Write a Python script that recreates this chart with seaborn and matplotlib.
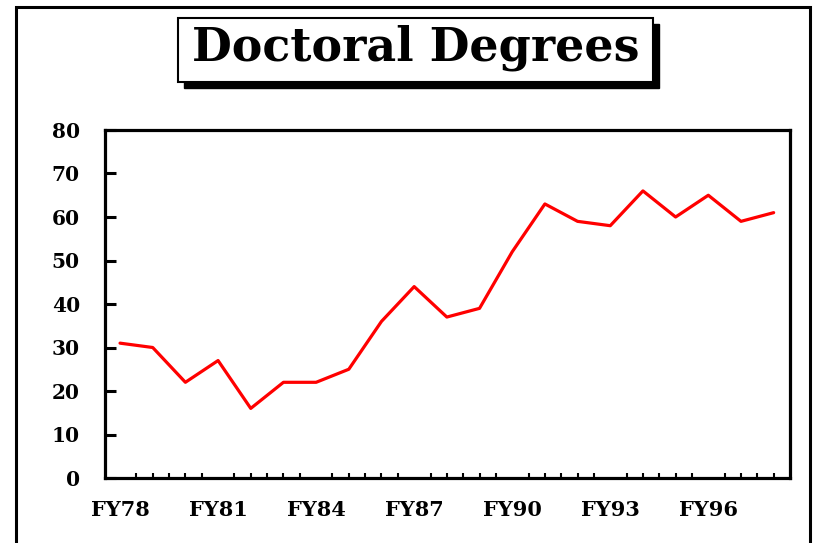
import numpy as np
import matplotlib.pyplot as plt
import seaborn as sns
import pandas as pd
from matplotlib.patches import Rectangle

sns.set_style("white")
plt.rcParams['font.family'] = ['DejaVu Serif', 'Liberation Serif']
plt.rcParams['text.color'] = 'black'
plt.rcParams['xtick.color'] = 'black'
plt.rcParams['ytick.color'] = 'black'

years = ["FY78", "FY79", "FY80", "FY81", "FY82", "FY83", "FY84", "FY85", "FY86", "FY87",
         "FY88", "FY89", "FY90", "FY91", "FY92", "FY93", "FY94", "FY95", "FY96", "FY97", "FY98"]
degrees = [31, 30, 22, 27, 16, 22, 22, 25, 36, 44, 37, 39, 52, 63, 59, 58, 66, 60, 65, 59, 61]
tick_labels = ["FY78", "FY81", "FY84", "FY87", "FY90", "FY93", "FY96"]

df = pd.DataFrame({"pos": np.arange(len(years)), "year": years, "degrees": degrees})

fig = plt.figure(figsize=(8.16, 5.43), dpi=100)
ax = fig.add_axes([105 / 816, 1 - 478 / 543, 685 / 816, 348 / 543])

sns.lineplot(data=df, x="pos", y="degrees", color="red", linewidth=2.3, ax=ax)

ax.set_xlim(-0.46, 20.5)
ax.set_ylim(0, 80)
ax.set_yticks(range(0, 81, 10))
ax.set_xticks([years.index(t) for t in tick_labels])
ax.set_xticklabels(tick_labels)
ax.set_xticks(np.arange(0, 20.01, 0.5), minor=True)
ax.set_xlabel("")
ax.set_ylabel("")

for s in ax.spines.values():
    s.set_linewidth(2.3)
    s.set_color("black")

ax.tick_params(axis="y", left=True, direction="in", length=8, width=2.2, labelsize=14.5, pad=18)
ax.tick_params(axis="x", which="major", bottom=True, direction="in", length=0, labelsize=15, pad=16)
ax.tick_params(axis="x", which="minor", bottom=True, direction="in", length=3.5, width=1.5)
for lbl in ax.get_xticklabels() + ax.get_yticklabels():
    lbl.set_fontweight("bold")

# outer frame
fig.patches.append(Rectangle((16 / 816, -0.05), 794 / 816, 1.05 - 7 / 543,
                             transform=fig.transFigure, fill=False,
                             edgecolor="black", linewidth=2.2))

# title box with drop shadow
bx0, bx1 = 178 / 816, 653 / 816
by0, by1 = 1 - 82 / 543, 1 - 18 / 543
fig.patches.append(Rectangle((bx0 + 6 / 816, by0 - 6 / 543), bx1 - bx0, by1 - by0,
                             transform=fig.transFigure, facecolor="black",
                             edgecolor="black", zorder=1))
fig.patches.append(Rectangle((bx0, by0), bx1 - bx0, by1 - by0,
                             transform=fig.transFigure, facecolor="white",
                             edgecolor="black", linewidth=1.5, zorder=2))
fig.text((bx0 + bx1) / 2, (by0 + by1) / 2 + 0.004, "Doctoral Degrees", ha="center", va="center",
         fontsize=33, fontweight="bold", zorder=3)

fig.savefig("out.png", dpi=100)
